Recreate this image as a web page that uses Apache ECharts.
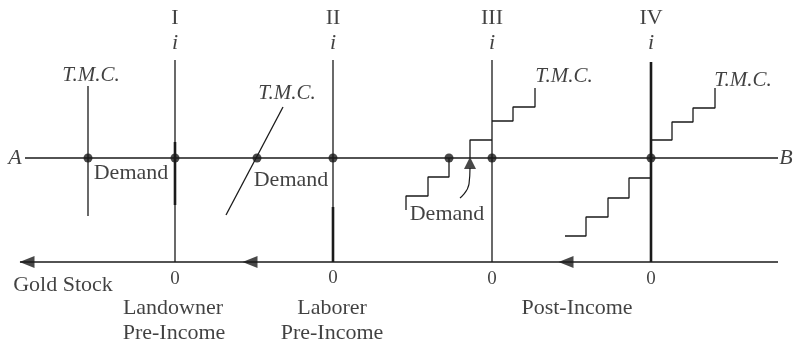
<!DOCTYPE html>
<html>
<head>
<meta charset="utf-8">
<script src="https://cdn.jsdelivr.net/npm/echarts@6/dist/echarts.min.js"></script>
<style>
html, body { margin: 0; padding: 0; background: #fff; }
#chart { width: 793px; height: 347px; }
</style>
</head>
<body>
<div id="chart"></div>
<script>
// diagram units: x runs left->right, y runs up; A-B line at y = 0, income line at y = -104
var lineAB = [[25, 0], [778, 0]];
var lineIncome = [[20, -104], [778, -104]];
var panelX = [175, 333, 492, 651];
var panelNames = ["I", "II", "III", "IV"];

var axisI = [[175, 98], [175, -104]];
var axisII = [[333, 98], [333, -104]];
var axisIII = [[492, 98], [492, -104]];
var heavyI = [[175, 16], [175, -47]];
var heavyII = [[333, -49], [333, -104]];
var heavyIV = [[651, 96], [651, -104]];

var tmcI = [[88, 72], [88, -58]];
var tmcII = [[283, 51], [226, -57]];
var tmcIIIlow = [[470, 0], [470, 18], [492, 18]];
var tmcIII = [[492, 37], [513, 37], [513, 51], [535, 51], [535, 70]];
var demandIII = [[449, 0], [449, -19], [428, -19], [428, -38], [406, -38], [406, -52]];
var tmcIV = [[651, 18], [672, 18], [672, 36], [693, 36], [693, 50], [715, 50], [715, 70]];
var demandIV = [[651, -20], [629, -20], [629, -40], [608, -40], [608, -59], [586, -59], [586, -78], [565, -78]];
var pointer = [[470, -10], [469, -26], [460, -40]];

var dots = [[88, 0], [175, 0], [257, 0], [333, 0], [449, 0], [492, 0], [651, 0]];
var upArrows = [[470, -5]];
var leftArrows = [[27, -104], [250, -104], [566, -104]];

var tmcLabels = [[91, 83], [287, 65], [564, 82], [743, 78]];
var demandLabels = [[131, -15], [291, -22], [447, -56]];
var zeroLabels = [[175, -121], [333, -120], [492, -121], [651, -121]];
var bottomLabels = [
  [63, -127, "Gold Stock"],
  [173, -150, "Landowner"],
  [174, -175, "Pre-Income"],
  [332, -150, "Laborer"],
  [332, -175, "Pre-Income"],
  [577, -150, "Post-Income"]
];
var endLabels = [[15, 0, "A"], [786, 0, "B"]];

var ink = "#1a1a1a";
var textInk = "#111";
var font = "Liberation Serif";

function seg(pts, width, smooth) {
  return {
    type: "line",
    data: pts,
    showSymbol: false,
    smooth: !!smooth,
    silent: true,
    lineStyle: { color: ink, width: width }
  };
}

function textItem(x, y, text, italic, size) {
  return {
    value: [x, y],
    label: {
      show: true,
      position: "inside",
      formatter: text,
      color: textInk,
      fontFamily: font,
      fontSize: size || 22,
      fontStyle: italic ? "italic" : "normal"
    }
  };
}

var texts = [];
panelX.forEach(function (x, k) {
  texts.push(textItem(x, 140, panelNames[k], false));
  texts.push(textItem(x, 115, "i", true));
});
tmcLabels.forEach(function (p) { texts.push(textItem(p[0], p[1], "T.M.C.", true, 21)); });
demandLabels.forEach(function (p) { texts.push(textItem(p[0], p[1], "Demand", false)); });
zeroLabels.forEach(function (p) { texts.push(textItem(p[0], p[1], "0", false, 19)); });
bottomLabels.forEach(function (p) { texts.push(textItem(p[0], p[1], p[2], false)); });
endLabels.forEach(function (p) { texts.push(textItem(p[0], p[1], p[2], true)); });

var series = [];
[lineAB, lineIncome, axisI, axisII, axisIII, tmcI, tmcII, tmcIIIlow, tmcIII, demandIII, tmcIV, demandIV].forEach(function (p) {
  series.push(seg(p, 1.3));
});
[heavyI, heavyII, heavyIV].forEach(function (p) { series.push(seg(p, 2.6)); });
series.push(seg(pointer, 1.2, true));

series.push({
  type: "scatter", data: dots, symbolSize: 9, silent: true,
  itemStyle: { color: ink }
});
series.push({
  type: "scatter", data: upArrows, symbol: "triangle", symbolSize: [12, 12], silent: true,
  itemStyle: { color: ink }
});
series.push({
  type: "scatter", data: leftArrows, symbol: "triangle", symbolSize: [12, 15], symbolRotate: 90, silent: true,
  itemStyle: { color: ink }
});
series.push({
  type: "scatter", data: texts, symbolSize: 1, silent: true,
  itemStyle: { color: "rgba(0,0,0,0)" }
});

var chart = echarts.init(document.getElementById("chart"));
chart.setOption({
  animation: false,
  backgroundColor: "#fff",
  grid: { left: 0, right: 0, top: 0, bottom: 0 },
  xAxis: { type: "value", min: 0, max: 793, show: false },
  yAxis: { type: "value", min: -189, max: 158, show: false },
  series: series
});
</script>
</body>
</html>
